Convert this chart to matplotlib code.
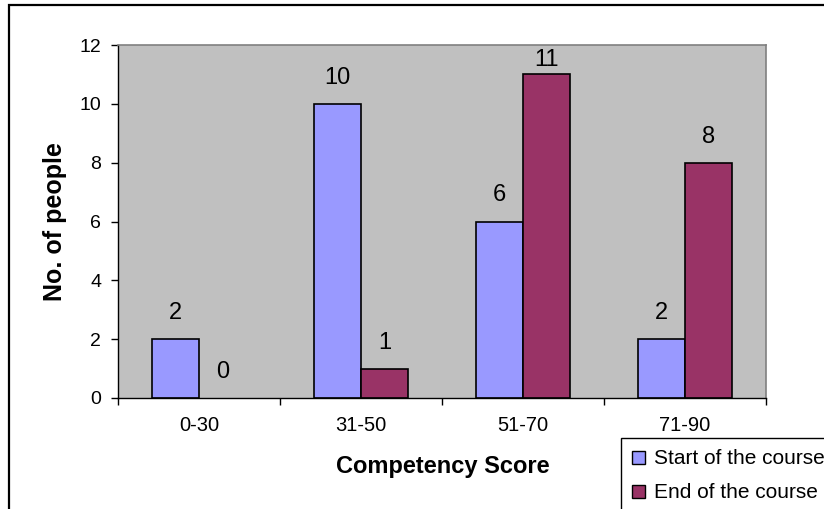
import numpy as np
import matplotlib
matplotlib.use('Agg')
import matplotlib.pyplot as plt
from matplotlib.patches import Patch, Rectangle

plt.rcParams['font.family'] = ['Liberation Sans', 'DejaVu Sans']

# score bands and head counts
categories = ['0-30', '31-50', '51-70', '71-90']
start_counts = [2, 10, 6, 2]
end_counts = [0, 1, 11, 8]
series_names = ['Start of the course', 'End of the course']
y_ticks = [0, 2, 4, 6, 8, 10, 12]

start_color = '#9999FF'
end_color = '#993366'

W, H = 824, 509
fig = plt.figure(figsize=(W / 100, H / 100), dpi=100)

# plot area in pixel terms
left, top, right, bottom = 118, 45, 766, 398
ax = fig.add_axes([left / W, 1 - bottom / H, (right - left) / W, (bottom - top) / H])
ax.set_facecolor('#C0C0C0')

x = np.arange(len(categories))
bw = 0.29
b1 = ax.bar(x - bw / 2, start_counts, bw, color=start_color, edgecolor='black',
            linewidth=[1.2 if v else 0 for v in start_counts], zorder=2)
b2 = ax.bar(x + bw / 2, end_counts, bw, color=end_color, edgecolor='black',
            linewidth=[1.2 if v else 0 for v in end_counts], zorder=2)

ymax = 12
# value labels above each bar, pushed down to stay inside the plot area
for bars, vals in ((b1, start_counts), (b2, end_counts)):
    for rect, v in zip(bars, vals):
        ax.text(rect.get_x() + rect.get_width() / 2, min(v + 0.68, ymax - 0.72), str(v),
                ha='center', va='baseline', fontsize=17, zorder=3)

ax.set_xlim(-0.5, len(categories) - 0.5)
ax.set_ylim(0, ymax)
ax.set_yticks(y_ticks)
ax.tick_params(axis='y', direction='out', length=5, width=1, pad=7, labelsize=14)

# boundary ticks without labels, names centred between them
ax.set_xticks(np.arange(len(categories) + 1) - 0.5)
ax.set_xticklabels([])
ax.set_xticks(x, minor=True)
ax.set_xticklabels(categories, minor=True)
ax.tick_params(axis='x', which='major', direction='out', length=5, width=1)
ax.tick_params(axis='x', which='minor', length=0, pad=13, labelsize=14.5)

for s in ('left', 'bottom'):
    ax.spines[s].set_color('black')
    ax.spines[s].set_linewidth(1)
for s in ('top', 'right'):
    ax.spines[s].set_color('#808080')
    ax.spines[s].set_linewidth(1.2)

fig.text(55 / W, 1 - 222 / H, 'No. of people', rotation=90, ha='center', va='center',
         fontsize=18, fontweight='bold')
fig.text(443 / W, 1 - 467 / H, 'Competency Score', ha='center', va='center',
         fontsize=17, fontweight='bold')

handles = [Patch(facecolor=start_color, edgecolor='black', linewidth=1),
           Patch(facecolor=end_color, edgecolor='black', linewidth=1)]
leg = fig.legend(handles, series_names, loc='upper left',
                 bbox_to_anchor=(621 / W, 1 - 438 / H), fontsize=15,
                 frameon=True, fancybox=False, framealpha=1, edgecolor='black',
                 handlelength=0.6, handleheight=0.6, handletextpad=0.45,
                 borderpad=0.55, labelspacing=0.72, borderaxespad=0)
leg.get_frame().set_linewidth(1)

# outer chart border, running off the right and bottom edges
fig.patches.append(Rectangle((9 / W, -0.2), 1.5, 1 - 5 / H + 0.2, transform=fig.transFigure,
                             fill=False, edgecolor='black', linewidth=1.6, zorder=10))

fig.savefig('out.png', dpi=100)
